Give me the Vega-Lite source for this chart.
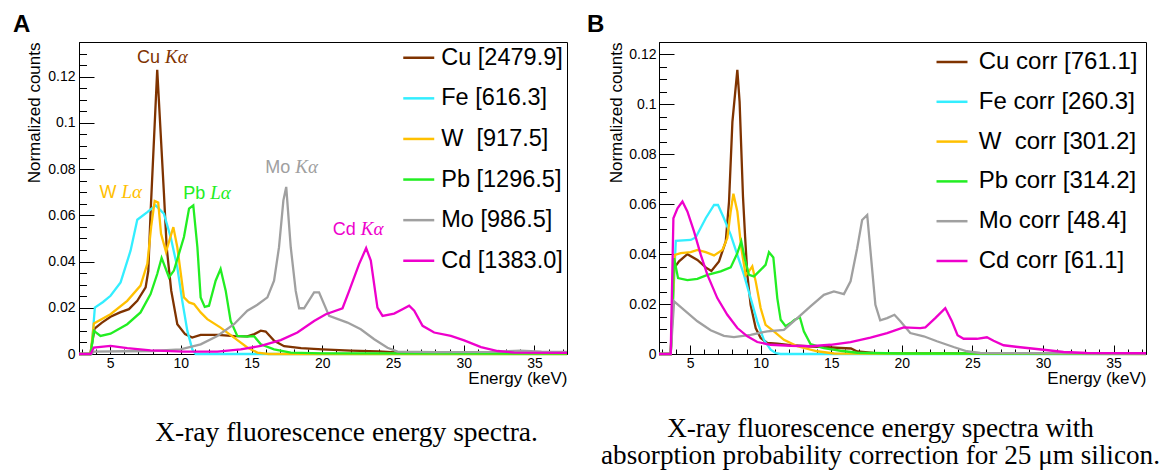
{
"$schema":"https://vega.github.io/schema/vega-lite/v6.json",
"background":"white",
"padding":{"left":12,"top":12,"right":0,"bottom":0},
"spacing":13,
"config":{
 "font":"Liberation Sans",
 "view":{"stroke":"black","strokeWidth":1},
 "axis":{"grid":false,"domainColor":"black","domainWidth":1,"tickColor":"black","tickWidth":1,"labelColor":"black","labelFont":"Liberation Sans","labelFontSize":14,"titleColor":"black","titleFont":"Liberation Sans","titleFontSize":17,"titleFontWeight":"normal","labelOverlap":false,"labelFlush":false},
 "title":{"color":"black"}
},
"resolve":{"scale":{"color":"independent","x":"independent","y":"independent"},"legend":{"color":"independent"}},
"datasets":{
"A":[
{"s":"Cu","E":2.8,"c":0},{"s":"Cu","E":3.6,"c":0},{"s":"Cu","E":3.9,"c":0.011},{"s":"Cu","E":4.4,"c":0.0135},{"s":"Cu","E":5.03,"c":0.0161},{"s":"Cu","E":5.7,"c":0.018},{"s":"Cu","E":6.33,"c":0.0194},{"s":"Cu","E":6.92,"c":0.023},{"s":"Cu","E":7.51,"c":0.0288},{"s":"Cu","E":7.7,"c":0.036},{"s":"Cu","E":7.86,"c":0.061},{"s":"Cu","E":8.33,"c":0.123},{"s":"Cu","E":8.8,"c":0.07},{"s":"Cu","E":9.0,"c":0.046},{"s":"Cu","E":9.32,"c":0.0274},{"s":"Cu","E":9.75,"c":0.0129},{"s":"Cu","E":10.3,"c":0.0086},{"s":"Cu","E":10.8,"c":0.0071},{"s":"Cu","E":11.4,"c":0.0083},{"s":"Cu","E":12.6,"c":0.0083},{"s":"Cu","E":13.8,"c":0.0077},{"s":"Cu","E":14.7,"c":0.0076},{"s":"Cu","E":15.2,"c":0.0086},{"s":"Cu","E":15.65,"c":0.0101},{"s":"Cu","E":16.0,"c":0.0097},{"s":"Cu","E":16.6,"c":0.0057},{"s":"Cu","E":17.3,"c":0.0034},{"s":"Cu","E":18.5,"c":0.0025},{"s":"Cu","E":20,"c":0.002},{"s":"Cu","E":22,"c":0.0015},{"s":"Cu","E":24,"c":0.0011},{"s":"Cu","E":26,"c":0.0004},{"s":"Cu","E":30,"c":0.0002},{"s":"Cu","E":37.3,"c":0.0001},
{"s":"Fe","E":2.8,"c":0},{"s":"Fe","E":3.66,"c":0},{"s":"Fe","E":3.92,"c":0.0201},{"s":"Fe","E":4.5,"c":0.0225},{"s":"Fe","E":5.03,"c":0.0252},{"s":"Fe","E":5.74,"c":0.031},{"s":"Fe","E":6.45,"c":0.0448},{"s":"Fe","E":6.92,"c":0.0581},{"s":"Fe","E":7.63,"c":0.0614},{"s":"Fe","E":8.22,"c":0.0643},{"s":"Fe","E":8.8,"c":0.0607},{"s":"Fe","E":9.28,"c":0.0506},{"s":"Fe","E":9.75,"c":0.0375},{"s":"Fe","E":10.1,"c":0.023},{"s":"Fe","E":10.46,"c":0.01},{"s":"Fe","E":10.81,"c":0.002},{"s":"Fe","E":11.05,"c":0},{"s":"Fe","E":37.3,"c":0},
{"s":"W","E":2.8,"c":0},{"s":"W","E":3.62,"c":0},{"s":"W","E":3.85,"c":0.0132},{"s":"W","E":5.03,"c":0.0172},{"s":"W","E":6.21,"c":0.023},{"s":"W","E":7.15,"c":0.0296},{"s":"W","E":7.63,"c":0.039},{"s":"W","E":7.9,"c":0.055},{"s":"W","E":8.15,"c":0.0662},{"s":"W","E":8.4,"c":0.0655},{"s":"W","E":8.6,"c":0.052},{"s":"W","E":8.95,"c":0.0442},{"s":"W","E":9.47,"c":0.0549},{"s":"W","E":9.75,"c":0.0462},{"s":"W","E":10.22,"c":0.0245},{"s":"W","E":10.58,"c":0.0223},{"s":"W","E":10.93,"c":0.0216},{"s":"W","E":11.4,"c":0.018},{"s":"W","E":11.87,"c":0.0151},{"s":"W","E":12.81,"c":0.0114},{"s":"W","E":13.76,"c":0.0071},{"s":"W","E":14.7,"c":0.0028},{"s":"W","E":15.41,"c":0.0006},{"s":"W","E":16.2,"c":0},{"s":"W","E":37.3,"c":0},
{"s":"Pb","E":2.8,"c":0},{"s":"Pb","E":3.62,"c":0},{"s":"Pb","E":3.85,"c":0.01},{"s":"Pb","E":4.32,"c":0.0078},{"s":"Pb","E":5.03,"c":0.0088},{"s":"Pb","E":6.21,"c":0.0129},{"s":"Pb","E":7.15,"c":0.018},{"s":"Pb","E":7.86,"c":0.0259},{"s":"Pb","E":8.33,"c":0.0346},{"s":"Pb","E":8.64,"c":0.0416},{"s":"Pb","E":9.16,"c":0.0332},{"s":"Pb","E":9.51,"c":0.0361},{"s":"Pb","E":10.22,"c":0.0506},{"s":"Pb","E":10.58,"c":0.0629},{"s":"Pb","E":10.88,"c":0.0643},{"s":"Pb","E":11.17,"c":0.0462},{"s":"Pb","E":11.4,"c":0.0245},{"s":"Pb","E":11.69,"c":0.0204},{"s":"Pb","E":11.99,"c":0.0209},{"s":"Pb","E":12.46,"c":0.0317},{"s":"Pb","E":12.81,"c":0.0368},{"s":"Pb","E":13.17,"c":0.0274},{"s":"Pb","E":13.52,"c":0.0143},{"s":"Pb","E":13.99,"c":0.0078},{"s":"Pb","E":14.7,"c":0.0075},{"s":"Pb","E":15.18,"c":0.0077},{"s":"Pb","E":15.65,"c":0.0042},{"s":"Pb","E":16.59,"c":0.002},{"s":"Pb","E":17.77,"c":0.0006},{"s":"Pb","E":20,"c":0.0003},{"s":"Pb","E":37.3,"c":0.0002},
{"s":"Mo","E":2.8,"c":0},{"s":"Mo","E":3.62,"c":0},{"s":"Mo","E":3.85,"c":0.001},{"s":"Mo","E":6,"c":0.0012},{"s":"Mo","E":8,"c":0.0013},{"s":"Mo","E":9.98,"c":0.002},{"s":"Mo","E":11.4,"c":0.0042},{"s":"Mo","E":12.58,"c":0.0078},{"s":"Mo","E":13.76,"c":0.0129},{"s":"Mo","E":14.7,"c":0.0187},{"s":"Mo","E":15.41,"c":0.0213},{"s":"Mo","E":16.12,"c":0.0245},{"s":"Mo","E":16.59,"c":0.0317},{"s":"Mo","E":16.94,"c":0.0462},{"s":"Mo","E":17.25,"c":0.0665},{"s":"Mo","E":17.45,"c":0.0723},{"s":"Mo","E":17.77,"c":0.0462},{"s":"Mo","E":18.12,"c":0.0273},{"s":"Mo","E":18.36,"c":0.0198},{"s":"Mo","E":18.71,"c":0.0198},{"s":"Mo","E":19.42,"c":0.0267},{"s":"Mo","E":19.77,"c":0.0267},{"s":"Mo","E":20.48,"c":0.0165},{"s":"Mo","E":21.78,"c":0.0136},{"s":"Mo","E":22.72,"c":0.0107},{"s":"Mo","E":23.67,"c":0.0064},{"s":"Mo","E":24.61,"c":0.0027},{"s":"Mo","E":25.32,"c":0.001},{"s":"Mo","E":28,"c":0.0008},{"s":"Mo","E":32,"c":0.0009},{"s":"Mo","E":34,"c":0.0014},{"s":"Mo","E":35.5,"c":0.001},{"s":"Mo","E":37.3,"c":0.0009},
{"s":"Cd","E":2.8,"c":0},{"s":"Cd","E":3.62,"c":0},{"s":"Cd","E":3.85,"c":0.0028},{"s":"Cd","E":5.03,"c":0.0035},{"s":"Cd","E":6.21,"c":0.0025},{"s":"Cd","E":7.86,"c":0.0016},{"s":"Cd","E":10.22,"c":0.001},{"s":"Cd","E":12.58,"c":0.001},{"s":"Cd","E":14.23,"c":0.002},{"s":"Cd","E":15.65,"c":0.0035},{"s":"Cd","E":17.06,"c":0.006},{"s":"Cd","E":18.24,"c":0.0093},{"s":"Cd","E":19.42,"c":0.0143},{"s":"Cd","E":20.25,"c":0.0172},{"s":"Cd","E":21.43,"c":0.0198},{"s":"Cd","E":21.9,"c":0.0273},{"s":"Cd","E":22.6,"c":0.0389},{"s":"Cd","E":23.1,"c":0.0458},{"s":"Cd","E":23.43,"c":0.0404},{"s":"Cd","E":23.9,"c":0.0201},{"s":"Cd","E":24.26,"c":0.0165},{"s":"Cd","E":25.08,"c":0.0175},{"s":"Cd","E":25.67,"c":0.0194},{"s":"Cd","E":26.14,"c":0.0209},{"s":"Cd","E":26.5,"c":0.0187},{"s":"Cd","E":27.09,"c":0.0122},{"s":"Cd","E":27.91,"c":0.0093},{"s":"Cd","E":29.09,"c":0.0078},{"s":"Cd","E":30.03,"c":0.0059},{"s":"Cd","E":31.22,"c":0.003},{"s":"Cd","E":32.4,"c":0.0013},{"s":"Cd","E":33.57,"c":0.0006},{"s":"Cd","E":37.3,"c":0.0005}
],
"B":[
{"s":"Cu","E":2.8,"c":0},{"s":"Cu","E":3.63,"c":0},{"s":"Cu","E":3.87,"c":0.0344},{"s":"Cu","E":4.22,"c":0.0371},{"s":"Cu","E":4.81,"c":0.04},{"s":"Cu","E":5.52,"c":0.0377},{"s":"Cu","E":6.11,"c":0.0347},{"s":"Cu","E":6.51,"c":0.0333},{"s":"Cu","E":7.05,"c":0.0371},{"s":"Cu","E":7.53,"c":0.0451},{"s":"Cu","E":7.76,"c":0.061},{"s":"Cu","E":8.0,"c":0.093},{"s":"Cu","E":8.35,"c":0.1138},{"s":"Cu","E":8.51,"c":0.101},{"s":"Cu","E":8.75,"c":0.063},{"s":"Cu","E":8.9,"c":0.047},{"s":"Cu","E":9.06,"c":0.0317},{"s":"Cu","E":9.29,"c":0.0197},{"s":"Cu","E":9.65,"c":0.0104},{"s":"Cu","E":10.0,"c":0.0064},{"s":"Cu","E":10.47,"c":0.0044},{"s":"Cu","E":11.18,"c":0.0041},{"s":"Cu","E":12.12,"c":0.0035},{"s":"Cu","E":13.3,"c":0.0031},{"s":"Cu","E":14.48,"c":0.0028},{"s":"Cu","E":15.66,"c":0.0024},{"s":"Cu","E":16.4,"c":0.0022},{"s":"Cu","E":16.84,"c":0.001},{"s":"Cu","E":18,"c":0.0004},{"s":"Cu","E":37.3,"c":0.0002},
{"s":"Fe","E":2.8,"c":0},{"s":"Fe","E":3.63,"c":0},{"s":"Fe","E":3.99,"c":0.0453},{"s":"Fe","E":5.05,"c":0.0457},{"s":"Fe","E":5.4,"c":0.0467},{"s":"Fe","E":6.11,"c":0.0544},{"s":"Fe","E":6.7,"c":0.0597},{"s":"Fe","E":6.98,"c":0.0597},{"s":"Fe","E":7.4,"c":0.0544},{"s":"Fe","E":7.88,"c":0.0477},{"s":"Fe","E":8.35,"c":0.0397},{"s":"Fe","E":8.82,"c":0.0317},{"s":"Fe","E":9.29,"c":0.0224},{"s":"Fe","E":9.76,"c":0.0131},{"s":"Fe","E":10.23,"c":0.0057},{"s":"Fe","E":10.71,"c":0.0017},{"s":"Fe","E":11.06,"c":0.0004},{"s":"Fe","E":11.4,"c":0},{"s":"Fe","E":37.3,"c":0},
{"s":"W","E":2.8,"c":0},{"s":"W","E":3.63,"c":0},{"s":"W","E":3.92,"c":0.0397},{"s":"W","E":4.34,"c":0.0404},{"s":"W","E":5.05,"c":0.0408},{"s":"W","E":5.52,"c":0.0417},{"s":"W","E":6.11,"c":0.0408},{"s":"W","E":6.7,"c":0.0395},{"s":"W","E":7.29,"c":0.0417},{"s":"W","E":7.64,"c":0.0464},{"s":"W","E":7.88,"c":0.0571},{"s":"W","E":8.07,"c":0.0642},{"s":"W","E":8.35,"c":0.0571},{"s":"W","E":8.63,"c":0.0424},{"s":"W","E":8.94,"c":0.0317},{"s":"W","E":9.17,"c":0.0331},{"s":"W","E":9.41,"c":0.0351},{"s":"W","E":9.65,"c":0.0291},{"s":"W","E":10.0,"c":0.0184},{"s":"W","E":10.35,"c":0.0117},{"s":"W","E":10.94,"c":0.0091},{"s":"W","E":11.65,"c":0.0057},{"s":"W","E":12.6,"c":0.0031},{"s":"W","E":14.01,"c":0.0011},{"s":"W","E":15.2,"c":0.0002},{"s":"W","E":37.3,"c":0},
{"s":"Pb","E":2.8,"c":0},{"s":"Pb","E":3.63,"c":0},{"s":"Pb","E":3.87,"c":0.0384},{"s":"Pb","E":4.15,"c":0.0304},{"s":"Pb","E":4.81,"c":0.0296},{"s":"Pb","E":5.52,"c":0.0301},{"s":"Pb","E":6.23,"c":0.0317},{"s":"Pb","E":7.17,"c":0.0331},{"s":"Pb","E":7.88,"c":0.0347},{"s":"Pb","E":8.35,"c":0.0404},{"s":"Pb","E":8.63,"c":0.0451},{"s":"Pb","E":8.87,"c":0.0384},{"s":"Pb","E":9.17,"c":0.0317},{"s":"Pb","E":9.53,"c":0.0311},{"s":"Pb","E":10.0,"c":0.0337},{"s":"Pb","E":10.35,"c":0.0357},{"s":"Pb","E":10.59,"c":0.0408},{"s":"Pb","E":10.9,"c":0.0387},{"s":"Pb","E":11.18,"c":0.0224},{"s":"Pb","E":11.42,"c":0.0137},{"s":"Pb","E":11.77,"c":0.0111},{"s":"Pb","E":12.12,"c":0.0124},{"s":"Pb","E":12.41,"c":0.0137},{"s":"Pb","E":12.78,"c":0.0147},{"s":"Pb","E":13.06,"c":0.0091},{"s":"Pb","E":13.53,"c":0.004},{"s":"Pb","E":14.48,"c":0.0024},{"s":"Pb","E":15.66,"c":0.0013},{"s":"Pb","E":16.84,"c":0.0005},{"s":"Pb","E":20,"c":0.0002},{"s":"Pb","E":37.3,"c":0.0002},
{"s":"Mo","E":2.8,"c":0},{"s":"Mo","E":3.63,"c":0},{"s":"Mo","E":3.87,"c":0.0211},{"s":"Mo","E":4.57,"c":0.0177},{"s":"Mo","E":5.52,"c":0.0131},{"s":"Mo","E":6.46,"c":0.0095},{"s":"Mo","E":7.4,"c":0.0073},{"s":"Mo","E":8.11,"c":0.0068},{"s":"Mo","E":9.29,"c":0.0077},{"s":"Mo","E":10.47,"c":0.0091},{"s":"Mo","E":11.65,"c":0.0097},{"s":"Mo","E":12.6,"c":0.0144},{"s":"Mo","E":13.53,"c":0.0191},{"s":"Mo","E":14.48,"c":0.0237},{"s":"Mo","E":15.19,"c":0.0251},{"s":"Mo","E":15.9,"c":0.024},{"s":"Mo","E":16.37,"c":0.0291},{"s":"Mo","E":16.84,"c":0.0424},{"s":"Mo","E":17.19,"c":0.0537},{"s":"Mo","E":17.55,"c":0.0557},{"s":"Mo","E":17.85,"c":0.037},{"s":"Mo","E":18.13,"c":0.0197},{"s":"Mo","E":18.47,"c":0.0135},{"s":"Mo","E":18.96,"c":0.0144},{"s":"Mo","E":19.48,"c":0.0157},{"s":"Mo","E":19.9,"c":0.0131},{"s":"Mo","E":20.6,"c":0.0084},{"s":"Mo","E":21.55,"c":0.0071},{"s":"Mo","E":22.49,"c":0.0051},{"s":"Mo","E":23.67,"c":0.0028},{"s":"Mo","E":24.61,"c":0.0011},{"s":"Mo","E":25.56,"c":0.0004},{"s":"Mo","E":37.3,"c":0.0002},
{"s":"Cd","E":2.8,"c":0},{"s":"Cd","E":3.63,"c":0},{"s":"Cd","E":3.82,"c":0.0544},{"s":"Cd","E":4.11,"c":0.0584},{"s":"Cd","E":4.46,"c":0.0611},{"s":"Cd","E":4.81,"c":0.0571},{"s":"Cd","E":5.28,"c":0.0491},{"s":"Cd","E":5.76,"c":0.0397},{"s":"Cd","E":6.23,"c":0.0317},{"s":"Cd","E":6.93,"c":0.0224},{"s":"Cd","E":7.64,"c":0.0157},{"s":"Cd","E":8.35,"c":0.0104},{"s":"Cd","E":9.06,"c":0.0071},{"s":"Cd","E":9.76,"c":0.0048},{"s":"Cd","E":10.71,"c":0.0037},{"s":"Cd","E":12.12,"c":0.0033},{"s":"Cd","E":13.53,"c":0.0031},{"s":"Cd","E":14.95,"c":0.0037},{"s":"Cd","E":16.37,"c":0.0048},{"s":"Cd","E":17.78,"c":0.0066},{"s":"Cd","E":18.96,"c":0.0084},{"s":"Cd","E":20.13,"c":0.0107},{"s":"Cd","E":21.31,"c":0.0104},{"s":"Cd","E":21.67,"c":0.0107},{"s":"Cd","E":22.37,"c":0.0144},{"s":"Cd","E":23.08,"c":0.0184},{"s":"Cd","E":23.55,"c":0.0131},{"s":"Cd","E":23.95,"c":0.0075},{"s":"Cd","E":24.38,"c":0.0061},{"s":"Cd","E":25.32,"c":0.0061},{"s":"Cd","E":26.03,"c":0.0067},{"s":"Cd","E":26.5,"c":0.0053},{"s":"Cd","E":27.21,"c":0.0035},{"s":"Cd","E":28.39,"c":0.0027},{"s":"Cd","E":30.04,"c":0.0017},{"s":"Cd","E":31.46,"c":0.0008},{"s":"Cd","E":33.1,"c":0.0004},{"s":"Cd","E":37.3,"c":0.0003}
],
"LA":[
{"s":"Cu","n":"Cu","k":"Kα","E":8.71,"c":0.126},
{"s":"W","n":"W","k":"Lα","E":5.62,"c":0.0673},
{"s":"Pb","n":"Pb","k":"Lα","E":11.9,"c":0.067},
{"s":"Mo","n":"Mo","k":"Kα","E":17.91,"c":0.0784},
{"s":"Cd","n":"Cd","k":"Kα","E":22.55,"c":0.0513}
]
},
"hconcat":[
{
  "width":488,"height":312,
  "title":{"text":"X-ray fluorescence energy spectra.","orient":"bottom","frame":"group","anchor":"middle","dx":23.5,"offset":32.5,"font":"Liberation Serif","fontSize":27.5,"fontWeight":"normal","color":"black","baseline":"top"},
  "layer":[
   {"data":{"name":"A"},"mark":{"type":"line","strokeWidth":2.3},
    "encoding":{
     "x":{"field":"E","type":"quantitative","scale":{"domain":[2.8,37.3],"nice":false,"zero":false},
      "axis":{"values":[3,4,5,6,7,8,9,10,11,12,13,14,15,16,17,18,19,20,21,22,23,24,25,26,27,28,29,30,31,32,33,34,35,36,37],"title":"Energy (keV)","titleAnchor":"end","titlePadding":-4,"titleFontSize":17,"labelFontSize":14,"labelOverlap":false,"labelBound":false,"labelFlush":false,"tickSize":{"condition":{"test":"datum.value % 5 === 0","value":-9},"value":-5},"labelExpr":"datum.value % 5 === 0 ? datum.label : ''","labelPadding":11.5}},
     "y":{"field":"c","type":"quantitative","scale":{"domain":[0,0.135],"nice":false},
      "axis":{"values":[0,0.005,0.01,0.015,0.02,0.025,0.03,0.035,0.04,0.045,0.05,0.055,0.06,0.065,0.07,0.075,0.08,0.085,0.09,0.095,0.1,0.105,0.11,0.115,0.12,0.125,0.13,0.135],"title":"Normalized counts","titleAnchor":"end","titlePadding":4,"titleFontSize":17,"labelFontSize":14,"labelOverlap":false,"labelBound":false,"labelFlush":false,"tickSize":{"condition":{"test":"abs(datum.value*50-round(datum.value*50))<0.001","value":-15},"value":-7.5},"labelExpr":"abs(datum.value*50-round(datum.value*50))<0.001 ? format(datum.value,'~g') : ''","labelPadding":19}},
     "color":{"field":"s","type":"nominal","scale":{"domain":["Cu","Fe","W","Pb","Mo","Cd"],"range":["#7f3300","#33eeff","#ffc000","#22ee22","#a0a0a0","#ee00cc"]},
      "legend":{"title":null,"orient":"top-right","offset":4,"padding":0,"symbolType":"M-2,0H2","symbolSize":240,"symbolStrokeWidth":2.5,"labelFontSize":23.5,"labelFont":"Liberation Sans","labelColor":"black","labelOffset":10.75,"rowPadding":15.6,"labelLimit":400,
       "labelExpr":"datum.label=='Cu'?'Cu [2479.9]':datum.label=='Fe'?'Fe [616.3]':datum.label=='W'?'W\u00a0 [917.5]':datum.label=='Pb'?'Pb [1296.5]':datum.label=='Mo'?'Mo [986.5]':'Cd [1383.0]'"}}
    }},
   {"data":{"name":"LA"},"mark":{"type":"text","align":"right","baseline":"alphabetic","dx":-2.5,"fontSize":18,"font":"Liberation Sans"},
    "encoding":{
     "x":{"field":"E","type":"quantitative","scale":{"domain":[2.8,37.3],"nice":false,"zero":false},
      "axis":{"values":[3,4,5,6,7,8,9,10,11,12,13,14,15,16,17,18,19,20,21,22,23,24,25,26,27,28,29,30,31,32,33,34,35,36,37],"title":"Energy (keV)","titleAnchor":"end","titlePadding":-4,"titleFontSize":17,"labelFontSize":14,"labelOverlap":false,"labelBound":false,"labelFlush":false,"tickSize":{"condition":{"test":"datum.value % 5 === 0","value":-9},"value":-5},"labelExpr":"datum.value % 5 === 0 ? datum.label : ''","labelPadding":11.5}},
     "y":{"field":"c","type":"quantitative","scale":{"domain":[0,0.135],"nice":false},
      "axis":{"values":[0,0.005,0.01,0.015,0.02,0.025,0.03,0.035,0.04,0.045,0.05,0.055,0.06,0.065,0.07,0.075,0.08,0.085,0.09,0.095,0.1,0.105,0.11,0.115,0.12,0.125,0.13,0.135],"title":"Normalized counts","titleAnchor":"end","titlePadding":4,"titleFontSize":17,"labelFontSize":14,"labelOverlap":false,"labelBound":false,"labelFlush":false,"tickSize":{"condition":{"test":"abs(datum.value*50-round(datum.value*50))<0.001","value":-15},"value":-7.5},"labelExpr":"abs(datum.value*50-round(datum.value*50))<0.001 ? format(datum.value,'~g') : ''","labelPadding":19}},
     "text":{"field":"n"},"color":{"field":"s","type":"nominal","legend":null}}},
   {"data":{"name":"LA"},"mark":{"type":"text","align":"left","baseline":"alphabetic","dx":2.5,"fontSize":19,"font":"Liberation Serif","fontStyle":"italic"},
    "encoding":{
     "x":{"field":"E","type":"quantitative","scale":{"domain":[2.8,37.3],"nice":false,"zero":false},
      "axis":{"values":[3,4,5,6,7,8,9,10,11,12,13,14,15,16,17,18,19,20,21,22,23,24,25,26,27,28,29,30,31,32,33,34,35,36,37],"title":"Energy (keV)","titleAnchor":"end","titlePadding":-4,"titleFontSize":17,"labelFontSize":14,"labelOverlap":false,"labelBound":false,"labelFlush":false,"tickSize":{"condition":{"test":"datum.value % 5 === 0","value":-9},"value":-5},"labelExpr":"datum.value % 5 === 0 ? datum.label : ''","labelPadding":11.5}},
     "y":{"field":"c","type":"quantitative","scale":{"domain":[0,0.135],"nice":false},
      "axis":{"values":[0,0.005,0.01,0.015,0.02,0.025,0.03,0.035,0.04,0.045,0.05,0.055,0.06,0.065,0.07,0.075,0.08,0.085,0.09,0.095,0.1,0.105,0.11,0.115,0.12,0.125,0.13,0.135],"title":"Normalized counts","titleAnchor":"end","titlePadding":4,"titleFontSize":17,"labelFontSize":14,"labelOverlap":false,"labelBound":false,"labelFlush":false,"tickSize":{"condition":{"test":"abs(datum.value*50-round(datum.value*50))<0.001","value":-15},"value":-7.5},"labelExpr":"abs(datum.value*50-round(datum.value*50))<0.001 ? format(datum.value,'~g') : ''","labelPadding":19}},
     "text":{"field":"k"},"color":{"field":"s","type":"nominal","legend":null}}},
   {"data":{"values":[{"p":"A"}]},"mark":{"type":"text","clip":false,"align":"left","baseline":"alphabetic","fontSize":24,"fontWeight":"bold","font":"Liberation Sans","color":"black"},
    "encoding":{
     "x":{"datum":-1.866,"type":"quantitative","scale":{"domain":[2.8,37.3],"nice":false,"zero":false},
      "axis":{"values":[3,4,5,6,7,8,9,10,11,12,13,14,15,16,17,18,19,20,21,22,23,24,25,26,27,28,29,30,31,32,33,34,35,36,37],"title":"Energy (keV)","titleAnchor":"end","titlePadding":-4,"titleFontSize":17,"labelFontSize":14,"labelOverlap":false,"labelBound":false,"labelFlush":false,"tickSize":{"condition":{"test":"datum.value % 5 === 0","value":-9},"value":-5},"labelExpr":"datum.value % 5 === 0 ? datum.label : ''","labelPadding":11.5}},
     "y":{"datum":0.1393,"type":"quantitative","scale":{"domain":[0,0.135],"nice":false},
      "axis":{"values":[0,0.005,0.01,0.015,0.02,0.025,0.03,0.035,0.04,0.045,0.05,0.055,0.06,0.065,0.07,0.075,0.08,0.085,0.09,0.095,0.1,0.105,0.11,0.115,0.12,0.125,0.13,0.135],"title":"Normalized counts","titleAnchor":"end","titlePadding":4,"titleFontSize":17,"labelFontSize":14,"labelOverlap":false,"labelBound":false,"labelFlush":false,"tickSize":{"condition":{"test":"abs(datum.value*50-round(datum.value*50))<0.001","value":-15},"value":-7.5},"labelExpr":"abs(datum.value*50-round(datum.value*50))<0.001 ? format(datum.value,'~g') : ''","labelPadding":19}},
     "text":{"field":"p"}}}
  ]
},
{
  "width":487,"height":312,
  "title":{"text":["X-ray fluorescence energy spectra with","absorption probability correction for 25 μm silicon."],"orient":"bottom","frame":"group","anchor":"middle","dx":-22,"offset":29.5,"lineHeight":27,"font":"Liberation Serif","fontSize":27.2,"fontWeight":"normal","color":"black","baseline":"top"},
  "layer":[
   {"data":{"name":"B"},"mark":{"type":"line","strokeWidth":2.3},
    "encoding":{
     "x":{"field":"E","type":"quantitative","scale":{"domain":[2.8,37.3],"nice":false,"zero":false},
      "axis":{"values":[3,4,5,6,7,8,9,10,11,12,13,14,15,16,17,18,19,20,21,22,23,24,25,26,27,28,29,30,31,32,33,34,35,36,37],"title":"Energy (keV)","titleAnchor":"end","titlePadding":-4,"titleFontSize":17,"labelFontSize":14,"labelOverlap":false,"labelBound":false,"labelFlush":false,"tickSize":{"condition":{"test":"datum.value % 5 === 0","value":-9},"value":-5},"labelExpr":"datum.value % 5 === 0 ? datum.label : ''","labelPadding":11.5}},
     "y":{"field":"c","type":"quantitative","scale":{"domain":[0,0.125],"nice":false},
      "axis":{"values":[0,0.005,0.01,0.015,0.02,0.025,0.03,0.035,0.04,0.045,0.05,0.055,0.06,0.065,0.07,0.075,0.08,0.085,0.09,0.095,0.1,0.105,0.11,0.115,0.12,0.125],"title":"Normalized counts","titleAnchor":"end","titlePadding":3,"titleFontSize":17,"labelFontSize":14,"labelOverlap":false,"labelBound":false,"labelFlush":false,"tickSize":{"condition":{"test":"abs(datum.value*50-round(datum.value*50))<0.001","value":-15},"value":-7.5},"labelExpr":"abs(datum.value*50-round(datum.value*50))<0.001 ? format(datum.value,'~g') : ''","labelPadding":18}},
     "color":{"field":"s","type":"nominal","scale":{"domain":["Cu","Fe","W","Pb","Mo","Cd"],"range":["#7f3300","#33eeff","#ffc000","#22ee22","#a0a0a0","#ee00cc"]},
      "legend":{"title":null,"orient":"top-right","offset":8,"padding":0,"symbolType":"M-2,0H2","symbolSize":240,"symbolStrokeWidth":2.5,"labelFontSize":24,"labelFont":"Liberation Sans","labelColor":"black","labelOffset":14.75,"rowPadding":15.8,"labelLimit":400,
       "labelExpr":"datum.label=='Cu'?'Cu corr [761.1]':datum.label=='Fe'?'Fe corr [260.3]':datum.label=='W'?'W\u00a0 corr [301.2]':datum.label=='Pb'?'Pb corr [314.2]':datum.label=='Mo'?'Mo corr [48.4]':'Cd corr [61.1]'"}}
    }},
   {"data":{"values":[{"p":"B"}]},"mark":{"type":"text","clip":false,"align":"left","baseline":"alphabetic","fontSize":24,"fontWeight":"bold","font":"Liberation Sans","color":"black"},
    "encoding":{
     "x":{"datum":-2.3,"type":"quantitative","scale":{"domain":[2.8,37.3],"nice":false,"zero":false},
      "axis":{"values":[3,4,5,6,7,8,9,10,11,12,13,14,15,16,17,18,19,20,21,22,23,24,25,26,27,28,29,30,31,32,33,34,35,36,37],"title":"Energy (keV)","titleAnchor":"end","titlePadding":-4,"titleFontSize":17,"labelFontSize":14,"labelOverlap":false,"labelBound":false,"labelFlush":false,"tickSize":{"condition":{"test":"datum.value % 5 === 0","value":-9},"value":-5},"labelExpr":"datum.value % 5 === 0 ? datum.label : ''","labelPadding":11.5}},
     "y":{"datum":0.129,"type":"quantitative","scale":{"domain":[0,0.125],"nice":false},
      "axis":{"values":[0,0.005,0.01,0.015,0.02,0.025,0.03,0.035,0.04,0.045,0.05,0.055,0.06,0.065,0.07,0.075,0.08,0.085,0.09,0.095,0.1,0.105,0.11,0.115,0.12,0.125],"title":"Normalized counts","titleAnchor":"end","titlePadding":3,"titleFontSize":17,"labelFontSize":14,"labelOverlap":false,"labelBound":false,"labelFlush":false,"tickSize":{"condition":{"test":"abs(datum.value*50-round(datum.value*50))<0.001","value":-15},"value":-7.5},"labelExpr":"abs(datum.value*50-round(datum.value*50))<0.001 ? format(datum.value,'~g') : ''","labelPadding":18}},
     "text":{"field":"p"}}}
  ]
}
]
}
